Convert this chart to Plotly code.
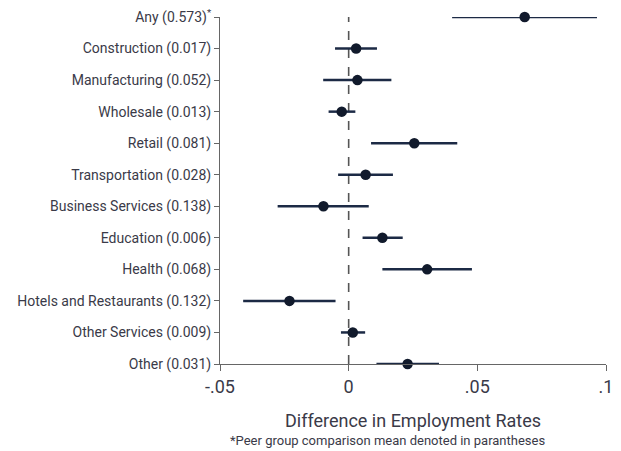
import plotly.graph_objects as go

categories = ["Any (0.573)<sup>*</sup>", "Construction (0.017)", "Manufacturing (0.052)",
              "Wholesale (0.013)", "Retail (0.081)", "Transportation (0.028)",
              "Business Services (0.138)", "Education (0.006)", "Health (0.068)",
              "Hotels and Restaurants (0.132)", "Other Services (0.009)", "Other (0.031)"]
estimate = [0.0684, 0.0029, 0.0034, -0.0027, 0.0255, 0.0066,
            -0.0098, 0.0131, 0.0305, -0.0230, 0.0016, 0.0229]
ci_low = [0.0402, -0.0053, -0.0099, -0.0078, 0.0087, -0.0041,
          -0.0276, 0.0054, 0.0131, -0.0410, -0.0030, 0.0108]
ci_high = [0.0965, 0.0110, 0.0166, 0.0026, 0.0422, 0.0172,
           0.0078, 0.0210, 0.0479, -0.0051, 0.0064, 0.0351]
x_ticks = [-0.05, 0, 0.05, 0.1]
x_tick_labels = ["-.05", "0", ".05", ".1"]

line_color = "#1c2a45"
text_color = "#3a3a48"
font_family = "Roboto"

plus = [h - e for h, e in zip(ci_high, estimate)]
minus = [e - l for e, l in zip(estimate, ci_low)]

fig = go.Figure()
fig.add_trace(go.Scatter(
    x=estimate, y=categories, mode="markers",
    marker=dict(color="#111a2c", size=10.5),
    error_x=dict(type="data", symmetric=False, array=plus, arrayminus=minus,
                 width=0, thickness=2.5, color=line_color),
    cliponaxis=False, showlegend=False,
))

fig.add_shape(type="line", xref="x", yref="paper", x0=0, x1=0, y0=0, y1=1,
              line=dict(color="#555555", width=1.6, dash="dash"), layer="below")

fig.update_layout(
    width=613, height=443,
    margin=dict(l=212, r=15, t=9, b=87, autoexpand=False),
    paper_bgcolor="white", plot_bgcolor="white",
    font=dict(family=font_family, color=text_color, size=14),
    xaxis=dict(range=[-0.05, 0.1], tickvals=x_ticks, ticktext=x_tick_labels,
               showgrid=False, zeroline=False, showline=True, linecolor="#666666",
               linewidth=1, ticks="outside", ticklen=6, tickcolor="#666666",
               automargin=False,
               tickfont=dict(size=18, color=text_color),
               title=dict(text="Difference in Employment Rates", font=dict(size=18, color=text_color),
                          standoff=18)),
    yaxis=dict(categoryorder="array", categoryarray=categories[::-1], range=[0, 11],
               showgrid=False, zeroline=False, showline=True, linecolor="#666666",
               linewidth=1, ticks="outside", ticklen=5, tickcolor="#666666",
               automargin=False,
               tickfont=dict(size=14, color=text_color)),
)

fig.add_annotation(text="*Peer group comparison mean denoted in parantheses",
                   xref="paper", yref="paper", x=0.435, y=0, yshift=-67,
                   showarrow=False, font=dict(size=13, color=text_color),
                   xanchor="center", yanchor="top")

fig.write_html("out.html")
